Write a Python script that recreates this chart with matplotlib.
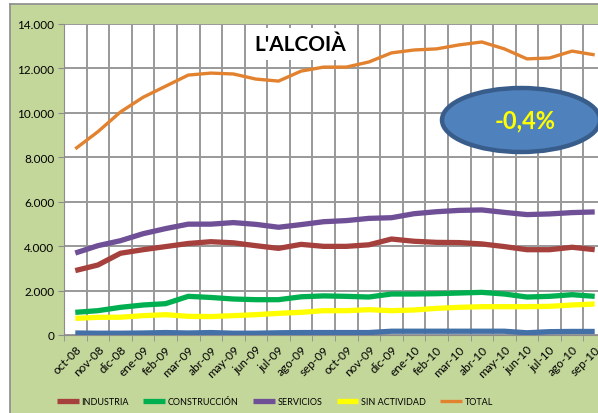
import matplotlib
matplotlib.use("Agg")
import matplotlib.pyplot as plt
from matplotlib.lines import Line2D
from matplotlib.patches import Rectangle, Ellipse
from matplotlib.ticker import FuncFormatter, MultipleLocator

plt.rcParams['font.family'] = ['Lato', 'DejaVu Sans']

months = ['oct-08', 'nov-08', 'dic-08', 'ene-09', 'feb-09', 'mar-09', 'abr-09', 'may-09',
          'jun-09', 'jul-09', 'ago-09', 'sep-09', 'oct-09', 'nov-09', 'dic-09', 'ene-10',
          'feb-10', 'mar-10', 'abr-10', 'may-10', 'jun-10', 'jul-10', 'ago-10', 'sep-10']

agricultura = [90, 80, 80, 90, 110, 90, 110, 80, 80, 100, 110, 110,
               110, 110, 170, 170, 170, 170, 170, 170, 100, 150, 160, 160]
industria = [2900, 3150, 3680, 3840, 3980, 4120, 4200, 4150, 4020, 3900, 4080, 3990,
             3990, 4060, 4320, 4220, 4170, 4160, 4100, 3980, 3840, 3840, 3950, 3840]
construccion = [1020, 1095, 1245, 1350, 1410, 1740, 1690, 1620, 1590, 1590, 1720, 1760,
                1740, 1710, 1845, 1845, 1860, 1890, 1920, 1845, 1710, 1740, 1815, 1740]
servicios = [3690, 4020, 4245, 4560, 4790, 4990, 4990, 5060, 4980, 4850, 4970, 5100,
             5150, 5250, 5280, 5460, 5550, 5610, 5630, 5520, 5420, 5450, 5510, 5540]
sin_actividad = [750, 795, 800, 870, 915, 840, 830, 870, 915, 975, 1020, 1095,
                 1095, 1140, 1095, 1125, 1200, 1245, 1275, 1275, 1275, 1290, 1350, 1395]
total = [8380, 9150, 10040, 10700, 11200, 11700, 11790, 11750, 11520, 11430, 11880, 12060,
         12060, 12290, 12700, 12830, 12880, 13060, 13190, 12880, 12430, 12470, 12780, 12610]

W, H = 598, 414
fig = plt.figure(figsize=(W / 100, H / 100), dpi=100)
fig.patch.set_facecolor('#c4d79b')

ax = fig.add_axes([64 / W, 1 - 336 / H, 542 / W, 311 / H])
ax.set_facecolor('white')

x = list(range(len(months)))
ax.set_xlim(-0.5, len(months) - 0.5)
ax.set_ylim(0, 14000)

ax.plot(x, agricultura, color='#4470a8', lw=3.8, solid_capstyle='butt', zorder=3)
ax.plot(x, industria, color='#a5403d', lw=3.8, solid_capstyle='butt', label='INDUSTRIA', zorder=3)
ax.plot(x, construccion, color='#00b050', lw=3.8, solid_capstyle='butt', label='CONSTRUCCIÓN', zorder=3)
ax.plot(x, servicios, color='#6f4f96', lw=3.8, solid_capstyle='butt', label='SERVICIOS', zorder=3)
ax.plot(x, sin_actividad, color='#ffff00', lw=3.8, solid_capstyle='butt', label='SIN ACTIVIDAD', zorder=3)
ax.plot(x, total, color='#e2822f', lw=2.4, solid_capstyle='butt', label='TOTAL', zorder=3)

ax.yaxis.set_major_locator(MultipleLocator(2000))
ax.yaxis.set_major_formatter(FuncFormatter(lambda v, p: f'{int(v):,}'.replace(',', '.')))

ax.set_xticks(x)
ax.set_xticklabels(months, rotation=45, ha='right', rotation_mode='anchor', fontsize=8.5)
ax.set_xticks([i - 0.5 for i in range(len(months) + 1)], minor=True)
ax.tick_params(axis='x', which='major', length=0, pad=6)
ax.tick_params(axis='x', which='minor', length=4, color='#8c8c8c')
ax.tick_params(axis='y', labelsize=8.5, length=4, color='#8c8c8c', pad=3)

# grid: horizontal every 2000, vertical between categories
ax.grid(True, which='major', axis='y', color='#999999', linewidth=1.4)
ax.grid(True, which='minor', axis='x', color='#999999', linewidth=1.4)
ax.set_axisbelow(True)

for side in ['top', 'right']:
    ax.spines[side].set_visible(False)
ax.spines['left'].set_color('#8c8c8c')
ax.spines['bottom'].set_color('#8c8c8c')

ax.text(236 / 542, 1 - 20 / 311, "L'ALCOIÀ", transform=ax.transAxes, ha='center', va='center',
        fontsize=15, fontweight='bold', color='black', zorder=5,
        bbox=dict(boxstyle='square,pad=0.3', facecolor='white', edgecolor='none'))

# white margin left and top, grey border of the chart area
fig.add_artist(Rectangle((0, 0), 10 / W, 1, transform=fig.transFigure,
                         facecolor='white', edgecolor='none', zorder=-5))
fig.add_artist(Rectangle((0, 1 - 5 / H), 1, 5 / H, transform=fig.transFigure,
                         facecolor='white', edgecolor='none', zorder=-5))
fig.add_artist(Line2D([10 / W, 10 / W], [0, 1 - 5 / H], transform=fig.transFigure,
                      color='#8c8c8c', lw=1.2, zorder=-4))
fig.add_artist(Line2D([10 / W, 1], [1 - 5 / H, 1 - 5 / H], transform=fig.transFigure,
                      color='#8c8c8c', lw=1.2, zorder=-4))

fig.add_artist(Ellipse((521 / W, 1 - 121 / H), 158 / W, 64 / H, transform=fig.transFigure,
                       facecolor='#4f81bd', edgecolor='#385d8a', lw=3.2, zorder=6))
fig.text(525 / W, 1 - 121 / H, '-0,4%', ha='center', va='center', fontsize=17,
         fontweight='bold', color='#ffff00', zorder=7)

fig.legend(loc='center', bbox_to_anchor=(275 / W, 1 - 403 / H), ncol=5, frameon=False,
           prop={'family': ['Liberation Sans Narrow', 'Lato'], 'size': 6.5},
           handlelength=2.4, handletextpad=0.3, columnspacing=1.6)

fig.savefig('out.png', dpi=100, facecolor=fig.get_facecolor())
